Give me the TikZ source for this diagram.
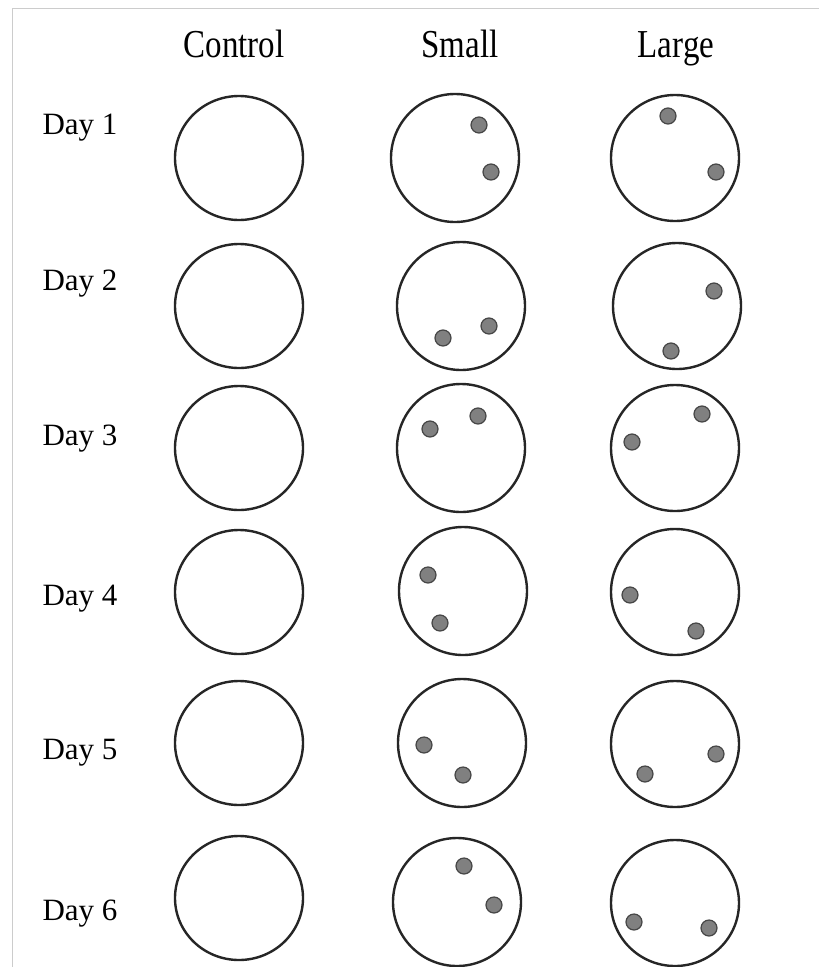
\documentclass[tikz,border=0pt]{standalone}
\usepackage{fontspec}
\setmainfont{Liberation Serif}
\usepackage{tikz}
\tikzset{
  dish/.style={line width=2.4pt, black!85},
  cell/.style={fill=gray, draw=gray!55!black, line width=1.2pt},
  lbl/.style={font=\fontsize{31}{36}\selectfont, inner sep=0pt, anchor=base},
  hdr/.style={lbl, font=\fontsize{33}{38}\selectfont, yscale=1.2},
  frm/.style={line width=1pt, gray!40},
}

\begin{document}
\begin{tikzpicture}[x=1pt,y=-1pt]
  \useasboundingbox (0,0) rectangle (819,967);
  \fill[white] (0,0) rectangle (819,967);
  \draw[frm] (12,967) -- (12,8) -- (819,8);
  % --- column heads ---
  \node[hdr] (hC) at (234,57) {Control};
  \node[hdr] (hS) at (460,57) {Small};
  \node[hdr] (hL) at (676,57) {Large};
  % --- day labels and control dishes ---
  \foreach \d/\ly/\cy in {1/134/158, 2/290/306, 3/445/448, 4/605/592, 5/759/743, 6/920/898}{
    \node[lbl] (day\d) at (80,\ly) {Day \d};
    \draw[dish] (239,\cy) ellipse [x radius=64, y radius=62];
  }
  % --- small dishes ---
  \foreach \cx/\cy in {455/158, 461/306, 461/448, 463/591, 462/743, 457/902}{
    \draw[dish] (\cx,\cy) ellipse [x radius=64, y radius=64];
  }
  % --- large dishes ---
  \foreach \cx/\cy in {675/158, 677/306, 675/448, 675/592, 675/744, 675/903}{
    \draw[dish] (\cx,\cy) ellipse [x radius=64, y radius=63];
  }
  % --- cells ---
  \foreach \px/\py in {479/125, 491/172, 443/338, 489/326, 430/429, 478/416,
                       428/575, 440/623, 424/745, 463/775, 464/866, 494/905}{
    \draw[cell] (\px,\py) circle [radius=8];
  }
  \foreach \px/\py in {668/116, 716/172, 714/291, 671/351, 702/414, 632/442,
                       630/595, 696/631, 716/754, 645/774, 634/922, 709/928}{
    \draw[cell] (\px,\py) circle [radius=8];
  }
\end{tikzpicture}
\end{document}
